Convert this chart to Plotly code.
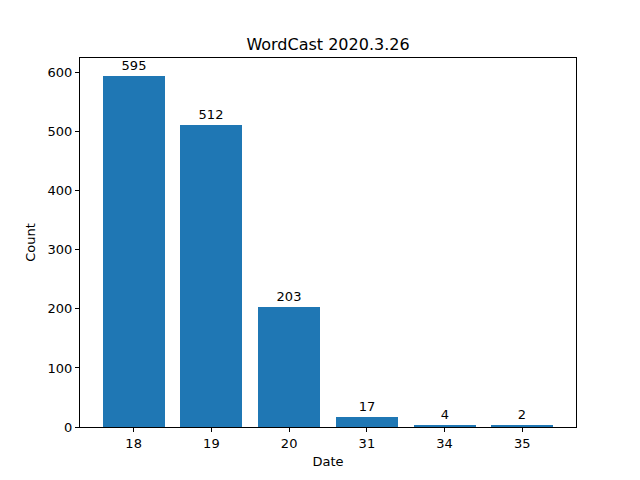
import plotly.graph_objects as go

# data
dates = ["18", "19", "20", "31", "34", "35"]
counts = [595, 512, 203, 17, 4, 2]

fig = go.Figure()
fig.add_trace(go.Bar(
    x=list(range(len(dates))), y=counts,
    width=0.8, marker=dict(color="#1f77b4", line=dict(width=0)),
    text=[str(c) for c in counts], textposition="outside",
    textfont=dict(size=13, color="black"), cliponaxis=False,
))

axis_style = dict(showline=True, linecolor="black", linewidth=1, mirror=True,
                  ticks="outside", ticklen=4, tickcolor="black",
                  showgrid=False, zeroline=False,
                  tickfont=dict(size=13, color="black"))

# page has an 8px body margin, so margins are shifted by 8px
fig.update_layout(
    width=640, height=480,
    margin=dict(l=72, r=72, t=50, b=61),
    paper_bgcolor="white", plot_bgcolor="white",
    font=dict(family="DejaVu Sans", size=13, color="black"),
    title=dict(text="WordCast 2020.3.26", x=0.5, xanchor="center",
               y=1 - 36 / 480, yanchor="middle", font=dict(size=16)),
    showlegend=False,
    bargap=0,
)
fig.update_xaxes(axis_style, range=[-0.69, 5.69], tickvals=list(range(len(dates))),
                 ticktext=dates, title=dict(text="Date", standoff=7, font=dict(size=13)))
fig.update_yaxes(axis_style, range=[0, 624.75], tickvals=[0, 100, 200, 300, 400, 500, 600],
                 title=dict(text="Count", standoff=9, font=dict(size=13)))

fig.write_html("out.html")
